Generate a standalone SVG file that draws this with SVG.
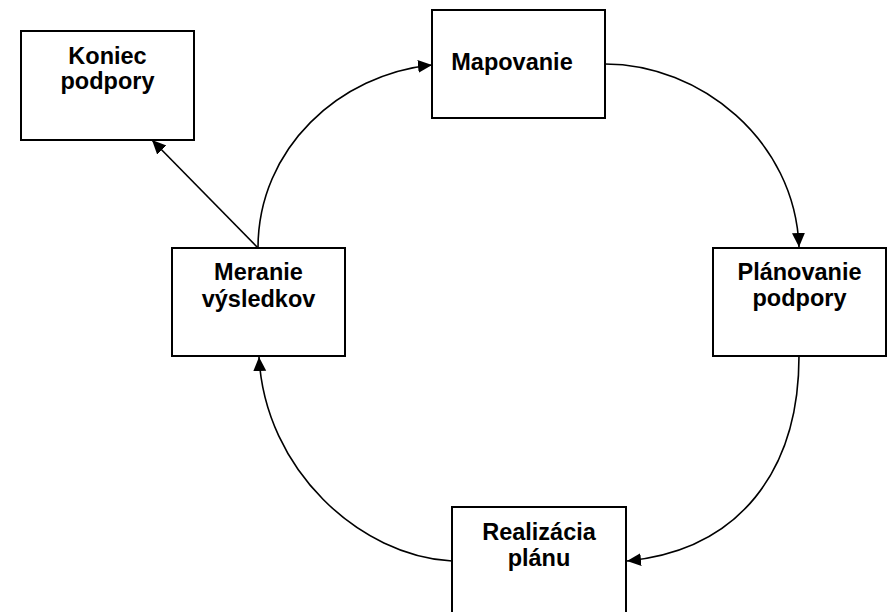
<svg xmlns="http://www.w3.org/2000/svg" width="890" height="612" viewBox="0 0 890 612">
<style>
.box{fill:#fff;stroke:#000;stroke-width:2}
.lbl{font-family:"Liberation Sans",Arial,sans-serif;font-weight:bold;font-size:23.5px;fill:#000;text-anchor:middle}
.conn{fill:none;stroke:#000;stroke-width:1.6}
</style>
<defs>
<marker id="arr" markerUnits="userSpaceOnUse" markerWidth="15" markerHeight="14" refX="14" refY="6.5" orient="auto">
<path d="M0,0 L14,6.5 L0,13 z" fill="#000"/>
</marker>
</defs>
<rect width="890" height="612" fill="#fff"/>
<g id="connectors">
<path class="conn" d="M258,248 L152,140" marker-end="url(#arr)"/>
<path class="conn" d="M258,248 C258,148 340,74 432,65" marker-end="url(#arr)"/>
<path class="conn" d="M605,64 C700,64 795,140 799,247" marker-end="url(#arr)"/>
<path class="conn" d="M799,356 C799,470 740,550 627,561" marker-end="url(#arr)"/>
<path class="conn" d="M452,561 C360,556 265,470 259,357" marker-end="url(#arr)"/>
</g>
<g id="koniec">
<rect class="box" x="21" y="31" width="173" height="109"/>
<text class="lbl" x="107.5" y="63.5">Koniec</text>
<text class="lbl" x="107.5" y="89">podpory</text>
</g>
<g id="mapovanie">
<rect class="box" x="432" y="10" width="173" height="108"/>
<text class="lbl" x="512" y="70">Mapovanie</text>
</g>
<g id="planovanie">
<rect class="box" x="713" y="248" width="173" height="108"/>
<text class="lbl" x="799.5" y="279.5">Plánovanie</text>
<text class="lbl" x="799.5" y="305.5">podpory</text>
</g>
<g id="realizacia">
<rect class="box" x="452" y="507" width="174" height="110"/>
<text class="lbl" x="539" y="540">Realizácia</text>
<text class="lbl" x="539" y="566">plánu</text>
</g>
<g id="meranie">
<rect class="box" x="172" y="248" width="173" height="108"/>
<text class="lbl" x="258.5" y="280">Meranie</text>
<text class="lbl" x="258.5" y="307">výsledkov</text>
</g>
</svg>
